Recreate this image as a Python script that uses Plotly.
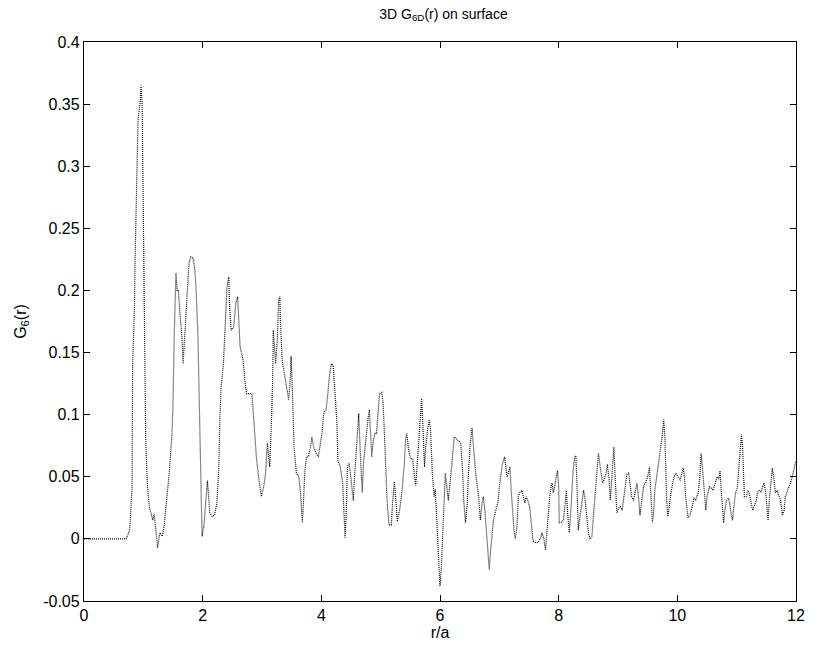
import plotly.graph_objects as go

r_vals = [0.0, 0.2, 0.4, 0.6, 0.71,
    0.77, 0.81, 0.82, 0.85, 0.86, 0.88, 0.91, 0.95, 0.96, 0.98, 0.99, 1.0, 1.02, 1.03, 1.04, 1.07, 1.10, 1.16, 1.18, 1.20, 1.24, 1.28, 1.32, 1.35, 1.39, 1.44, 1.48, 1.50, 1.52, 1.53, 1.55, 1.57, 1.59, 1.62, 1.65, 1.67, 1.69, 1.71, 1.74, 1.77, 1.80, 1.84, 1.87, 1.89, 1.92, 1.94, 1.96, 1.98, 1.99, 2.02, 2.05, 2.08, 2.10, 2.12, 2.16, 2.20, 2.24, 2.27, 2.29, 2.31, 2.35, 2.37, 2.39, 2.41, 2.44, 2.45, 2.48, 2.52, 2.56, 2.59,
    2.63, 2.68, 2.71, 2.74, 2.83, 2.86, 2.91, 2.95, 2.99, 3.04, 3.06, 3.09, 3.11, 3.13, 3.16, 3.18, 3.19, 3.21, 3.23, 3.26, 3.28, 3.30, 3.31, 3.34, 3.38, 3.42, 3.45, 3.48, 3.49, 3.51, 3.54, 3.58, 3.62, 3.65, 3.68, 3.70, 3.72, 3.75, 3.78, 3.81, 3.84, 3.87, 3.91, 3.95, 3.98, 4.01, 4.04, 4.08, 4.11, 4.14, 4.17, 4.20, 4.23, 4.26, 4.28, 4.32, 4.36, 4.39, 4.40, 4.42, 4.44, 4.47, 4.51, 4.54, 4.56, 4.60,
    4.63, 4.66, 4.69, 4.71, 4.76, 4.79, 4.81, 4.83, 4.85, 4.87, 4.90, 4.93, 4.96, 4.98, 5.02, 5.04, 5.06, 5.09, 5.11, 5.14, 5.18, 5.20, 5.23, 5.26, 5.28, 5.32, 5.36, 5.40, 5.42, 5.44, 5.47, 5.50, 5.54, 5.57, 5.59, 5.61, 5.64, 5.66, 5.69, 5.71, 5.74, 5.76, 5.79, 5.82, 5.84, 5.87, 5.90, 5.92, 5.95, 5.97, 5.99, 6.00, 6.02, 6.05, 6.07, 6.09, 6.12, 6.14, 6.17, 6.21, 6.24, 6.27, 6.32, 6.35, 6.38, 6.40, 6.43, 6.46, 6.48, 6.51, 6.54, 6.57, 6.60,
    6.65, 6.68, 6.71, 6.73, 6.76, 6.79, 6.81, 6.83, 6.85, 6.88, 6.90, 6.94, 6.98, 7.00, 7.03, 7.05, 7.09, 7.11, 7.13, 7.15, 7.18, 7.20, 7.23, 7.25, 7.27, 7.30, 7.32, 7.34, 7.38, 7.40, 7.43, 7.45, 7.48, 7.51, 7.54, 7.57, 7.61, 7.65, 7.69, 7.72, 7.75, 7.78, 7.80, 7.82, 7.85, 7.87, 7.89, 7.91, 7.94, 7.98, 8.00, 8.01, 8.04, 8.08, 8.11, 8.13, 8.15, 8.18, 8.21, 8.24, 8.27, 8.29, 8.31, 8.33, 8.36, 8.39, 8.42, 8.44, 8.47, 8.50, 8.53, 8.56, 8.59, 8.62, 8.65, 8.67, 8.70, 8.74, 8.77,
    8.80, 8.82, 8.85, 8.87, 8.90, 8.93, 8.94, 8.96, 8.98, 9.01, 9.04, 9.07, 9.10, 9.13, 9.15, 9.18, 9.21, 9.23, 9.26, 9.29, 9.32, 9.35, 9.37, 9.40, 9.43, 9.47, 9.50, 9.53, 9.55, 9.58, 9.60, 9.62, 9.66, 9.69, 9.72, 9.75, 9.77, 9.79, 9.80, 9.82, 9.84, 9.86, 9.90, 9.93, 9.97, 10.01, 10.05, 10.07, 10.10, 10.12, 10.14, 10.18, 10.21, 10.25, 10.28, 10.31, 10.35, 10.38, 10.40,
    10.43, 10.46, 10.48, 10.50, 10.54, 10.57, 10.60, 10.64, 10.67, 10.70, 10.72, 10.74, 10.76, 10.78, 10.80, 10.83, 10.86, 10.88, 10.91, 10.93, 10.96, 10.98, 11.01, 11.03, 11.06, 11.08, 11.10, 11.12, 11.13, 11.16, 11.19, 11.21, 11.24, 11.27, 11.30, 11.33, 11.35, 11.38, 11.41, 11.44, 11.46, 11.49, 11.51, 11.53, 11.55, 11.58, 11.60, 11.63, 11.65, 11.68, 11.71, 11.74, 11.77, 11.80, 11.82, 11.85, 11.88, 11.91, 11.94, 11.97, 12.0]

g6_vals = [0.0, 0.0, 0.0, 0.0, 0.0,
    0.007, 0.042, 0.141, 0.184, 0.222, 0.275, 0.337, 0.353, 0.365, 0.350, 0.302, 0.275, 0.19, 0.109, 0.08, 0.042, 0.026, 0.015, 0.02, 0.013, -0.007, 0.005, 0.002, 0.01, 0.029, 0.055, 0.082, 0.109, 0.163, 0.19, 0.214, 0.2, 0.2, 0.179, 0.163, 0.141, 0.157, 0.182, 0.203, 0.222, 0.227, 0.226, 0.216, 0.2, 0.163, 0.12, 0.082, 0.034, 0.002, 0.01, 0.029, 0.047, 0.034, 0.021, 0.018, 0.019, 0.029, 0.055, 0.096, 0.122, 0.141, 0.163, 0.184, 0.203, 0.211, 0.19, 0.168, 0.17, 0.19, 0.195,
    0.155, 0.144, 0.128, 0.117, 0.117, 0.096, 0.063, 0.047, 0.034, 0.045, 0.053, 0.077, 0.069, 0.058, 0.096, 0.128, 0.168, 0.149, 0.141, 0.163, 0.192, 0.195, 0.176, 0.144, 0.133, 0.12, 0.112, 0.131, 0.147, 0.123, 0.074, 0.053, 0.05, 0.037, 0.013, 0.031, 0.053, 0.066, 0.066, 0.072, 0.082, 0.074, 0.069, 0.066, 0.074, 0.085, 0.101, 0.104, 0.117, 0.133, 0.141, 0.139, 0.117, 0.096, 0.063, 0.058, 0.045, 0.015, 0.001, 0.021, 0.058, 0.061, 0.045, 0.031, 0.05, 0.082,
    0.101, 0.066, 0.037, 0.061, 0.088, 0.098, 0.104, 0.080, 0.066, 0.077, 0.085, 0.085, 0.104, 0.117, 0.118, 0.110, 0.088, 0.053, 0.029, 0.011, 0.011, 0.029, 0.046, 0.029, 0.014, 0.023, 0.039, 0.061, 0.080, 0.085, 0.072, 0.065, 0.064, 0.05, 0.043, 0.056, 0.08, 0.098, 0.113, 0.093, 0.058, 0.074, 0.088, 0.096, 0.088, 0.053, 0.034, 0.04, 0.013, -0.014, -0.033, -0.038, -0.025, 0.007, 0.034, 0.053, 0.04, 0.031, 0.045, 0.066, 0.082, 0.081, 0.078, 0.077, 0.056, 0.031, 0.013, 0.029, 0.053, 0.077, 0.089, 0.072, 0.053,
    0.034, 0.015, 0.03, 0.034, 0.021, -0.001, -0.017, -0.025, -0.011, 0.005, 0.015, 0.023, 0.03, 0.042, 0.055, 0.06, 0.066, 0.058, 0.05, 0.053, 0.058, 0.039, 0.018, 0.005, 0.0, 0.011, 0.034, 0.037, 0.039, 0.035, 0.029, 0.034, 0.031, 0.026, 0.01, -0.002, -0.003, -0.003, 0.0, 0.005, 0.0, -0.009, 0.005, 0.018, 0.034, 0.042, 0.045, 0.037, 0.045, 0.055, 0.042, 0.013, 0.013, 0.015, 0.029, 0.039, 0.021, 0.005, 0.026, 0.053, 0.066, 0.067, 0.042, 0.007, 0.018, 0.029, 0.039, 0.034, 0.018, 0.005, 0.0, 0.002, 0.021, 0.042, 0.061, 0.069, 0.058, 0.045, 0.048,
    0.053, 0.06, 0.048, 0.031, 0.053, 0.074, 0.063, 0.039, 0.021, 0.025, 0.026, 0.023, 0.034, 0.045, 0.052, 0.053, 0.042, 0.034, 0.031, 0.038, 0.045, 0.031, 0.019, 0.031, 0.042, 0.046, 0.05, 0.058, 0.039, 0.013, 0.021, 0.039, 0.053, 0.066, 0.074, 0.085, 0.096, 0.082, 0.053, 0.031, 0.018, 0.026, 0.039, 0.047, 0.053, 0.05, 0.047, 0.052, 0.057, 0.05, 0.034, 0.017, 0.019, 0.026, 0.033, 0.031, 0.037, 0.05, 0.069,
    0.053, 0.034, 0.023, 0.034, 0.042, 0.041, 0.039, 0.045, 0.05, 0.048, 0.055, 0.039, 0.026, 0.013, 0.023, 0.031, 0.033, 0.029, 0.019, 0.015, 0.029, 0.037, 0.041, 0.053, 0.069, 0.084, 0.074, 0.05, 0.034, 0.034, 0.039, 0.037, 0.03, 0.023, 0.027, 0.031, 0.037, 0.039, 0.038, 0.042, 0.045, 0.037, 0.023, 0.015, 0.031, 0.05, 0.057, 0.048, 0.037, 0.039, 0.034, 0.031, 0.019, 0.023, 0.034, 0.039, 0.042, 0.045, 0.051, 0.058, 0.063]

x_ticks = [0, 2, 4, 6, 8, 10, 12]
y_ticks = [-0.05, 0, 0.05, 0.1, 0.15, 0.2, 0.25, 0.3, 0.35, 0.4]
y_tick_labels = ["-0.05", "0", "0.05", "0.1", "0.15", "0.2", "0.25", "0.3", "0.35", "0.4"]

fig = go.Figure()
fig.add_trace(go.Scatter(
    x=r_vals, y=g6_vals, mode="lines",
    line=dict(color="#111111", width=1.2, dash="1px,1px"),
    showlegend=False, hoverinfo="skip",
))

font_main = "Liberation Sans, Arial, sans-serif"
axis_common = dict(
    showline=True, linecolor="black", linewidth=1.3, mirror="ticks",
    ticks="inside", ticklen=6, tickcolor="black", tickwidth=1.3,
    showgrid=False, zeroline=False,
    tickfont=dict(family=font_main, size=16, color="black"),
)

fig.update_layout(
    width=817, height=648,
    margin=dict(l=84, r=14, t=42, b=46),
    paper_bgcolor="white", plot_bgcolor="white",
    title=dict(text="3D G<sub>6D</sub>(r) on surface", x=0.5428, xanchor="center",
               y=0.979, yanchor="middle",
               font=dict(family=font_main, size=14, color="black")),
    xaxis=dict(range=[0, 12], tickvals=x_ticks,
               title=dict(text="r/a", standoff=0, font=dict(family=font_main, size=16, color="black")),
               **axis_common),
    yaxis=dict(range=[-0.05, 0.4], tickvals=y_ticks, ticktext=y_tick_labels,
               title=dict(text="G<sub>6</sub>(r)", standoff=12, font=dict(family=font_main, size=16, color="black")),
               **axis_common),
)

fig.write_html("out.html")
